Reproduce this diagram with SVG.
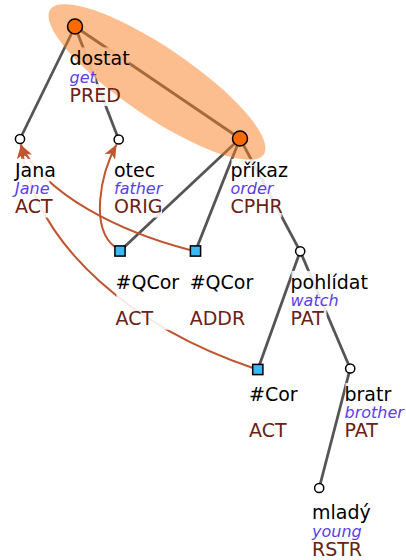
<svg xmlns="http://www.w3.org/2000/svg" width="406" height="560" viewBox="0 0 406 560">
<defs>
<style>
.e{stroke:#555;stroke-width:2.8;fill:none}
.a{stroke:#c0552f;stroke-width:2;fill:none;marker-end:url(#ah)}
.bg rect{fill:#fff}
.t{font-family:"DejaVu Sans","Noto Sans",sans-serif;font-size:19px;fill:#000}
.g{font-size:16px;font-style:italic;fill:#5a3ee6}
.f{fill:#6b2114}
.on{fill:#ff6a00;stroke:#000;stroke-width:1.5}
.wn{fill:#fff;stroke:#000;stroke-width:1.5}
.sq{fill:#3ab9f5;stroke:#000;stroke-width:1.5}
</style>
<marker id="ah" markerUnits="userSpaceOnUse" viewBox="-15 -7 16 14" refX="0" refY="0" markerWidth="16" markerHeight="14" orient="auto">
<path d="M0,0 L-14,6 L-10.5,0 L-14,-6 Z" fill="#c0552f"/>
</marker>
</defs>
<g id="connectors">
<line class="e" x1="75" y1="26.5" x2="20" y2="139"/>
<line class="e" x1="75" y1="26.5" x2="118.7" y2="139.5"/>
<line class="e" x1="75" y1="26.5" x2="240" y2="138.5"/>
<line class="e" x1="240" y1="138.5" x2="120" y2="251"/>
<line class="e" x1="240" y1="138.5" x2="195.5" y2="251"/>
<line class="e" x1="240" y1="138.5" x2="300.2" y2="251.3"/>
<line class="e" x1="300.2" y1="251.3" x2="257.8" y2="369.5"/>
<line class="e" x1="300.2" y1="251.3" x2="350.2" y2="368.5"/>
<line class="e" x1="350.2" y1="368.5" x2="319.2" y2="488"/>
<path class="a" d="M115,247 C90,228 100,175 116.5,144.5"/>
<path class="a" d="M190,250 C120,232 45,195 20.5,144.5"/>
<path class="a" d="M253,368 C140,330 35,250 21,144.5"/>
</g>
<g id="label-backgrounds" class="bg" opacity="0.88">
<rect x="70.5" y="47.4" width="59" height="22"/>
<rect x="70.5" y="67.9" width="25" height="18.6"/>
<rect x="70.5" y="84.1" width="50" height="22"/>
<rect x="16" y="158.9" width="40" height="22"/>
<rect x="16" y="179.4" width="33.5" height="18.6"/>
<rect x="16" y="195.6" width="37" height="22"/>
<rect x="115" y="158.9" width="40" height="22"/>
<rect x="115" y="179.4" width="47" height="18.6"/>
<rect x="115" y="195.6" width="47" height="22"/>
<rect x="231.5" y="158.9" width="56" height="22"/>
<rect x="231.5" y="179.4" width="41.5" height="18.6"/>
<rect x="231.5" y="195.6" width="50" height="22"/>
<rect x="116.5" y="270.9" width="62" height="58.8"/>
<rect x="190.7" y="270.9" width="62" height="58.8"/>
<rect x="291.5" y="270.9" width="76" height="22"/>
<rect x="291.5" y="291.4" width="46.5" height="18.6"/>
<rect x="291.5" y="307.6" width="35" height="22"/>
<rect x="250" y="382.9" width="47.5" height="58.8"/>
<rect x="345.5" y="382.9" width="45.5" height="22"/>
<rect x="345.5" y="403.4" width="58" height="18.6"/>
<rect x="345.5" y="419.6" width="35" height="22"/>
<rect x="313" y="501.4" width="57.5" height="22"/>
<rect x="313" y="521.9" width="48.5" height="18.6"/>
<rect x="313" y="538.1" width="49" height="22"/>
</g>
<ellipse id="highlight" cx="157" cy="82" rx="129" ry="34.5" transform="rotate(34.17 157 82)" fill="#fb7d20" fill-opacity="0.5"/>
<g class="t">
<g id="n-dostat">
<circle class="on" cx="75" cy="26.5" r="7.5"/>
<text x="69.5" y="65">dostat</text>
<text class="g" x="69.5" y="82.7">get</text>
<text class="f" x="69.5" y="101.7">PRED</text>
</g>
<g id="n-jana">
<circle class="wn" cx="20" cy="139" r="4.6"/>
<text x="15" y="176.5">Jana</text>
<text class="g" x="15" y="194.2">Jane</text>
<text class="f" x="15" y="213.2">ACT</text>
</g>
<g id="n-otec">
<circle class="wn" cx="118.7" cy="139.5" r="4.6"/>
<text x="114" y="176.5">otec</text>
<text class="g" x="114" y="194.2">father</text>
<text class="f" x="114" y="213.2">ORIG</text>
</g>
<g id="n-prikaz">
<circle class="on" cx="240" cy="138.5" r="7.5"/>
<text x="230.5" y="176.5">příkaz</text>
<text class="g" x="230.5" y="194.2">order</text>
<text class="f" x="230.5" y="213.2">CPHR</text>
</g>
<g id="n-qcor1">
<rect class="sq" x="114.9" y="245.9" width="10.2" height="10.2"/>
<text x="115.5" y="288.5">#QCor</text>
<text class="f" x="115.5" y="325.2">ACT</text>
</g>
<g id="n-qcor2">
<rect class="sq" x="190.4" y="245.9" width="10.2" height="10.2"/>
<text x="189.7" y="288.5">#QCor</text>
<text class="f" x="189.7" y="325.2">ADDR</text>
</g>
<g id="n-pohlidat">
<circle class="wn" cx="300.2" cy="251.3" r="4.6"/>
<text x="290.5" y="288.5">pohlídat</text>
<text class="g" x="290.5" y="306.2">watch</text>
<text class="f" x="290.5" y="325.2">PAT</text>
</g>
<g id="n-cor">
<rect class="sq" x="252.7" y="364.4" width="10.2" height="10.2"/>
<text x="249" y="400.5">#Cor</text>
<text class="f" x="249" y="437.2">ACT</text>
</g>
<g id="n-bratr">
<circle class="wn" cx="350.2" cy="368.5" r="4.6"/>
<text x="344.5" y="400.5">bratr</text>
<text class="g" x="344.5" y="418.2">brother</text>
<text class="f" x="344.5" y="437.2">PAT</text>
</g>
<g id="n-mlady">
<circle class="wn" cx="319.2" cy="488" r="4.6"/>
<text x="312" y="519">mladý</text>
<text class="g" x="312" y="536.7">young</text>
<text class="f" x="312" y="555.7">RSTR</text>
</g>
</g>
</svg>
